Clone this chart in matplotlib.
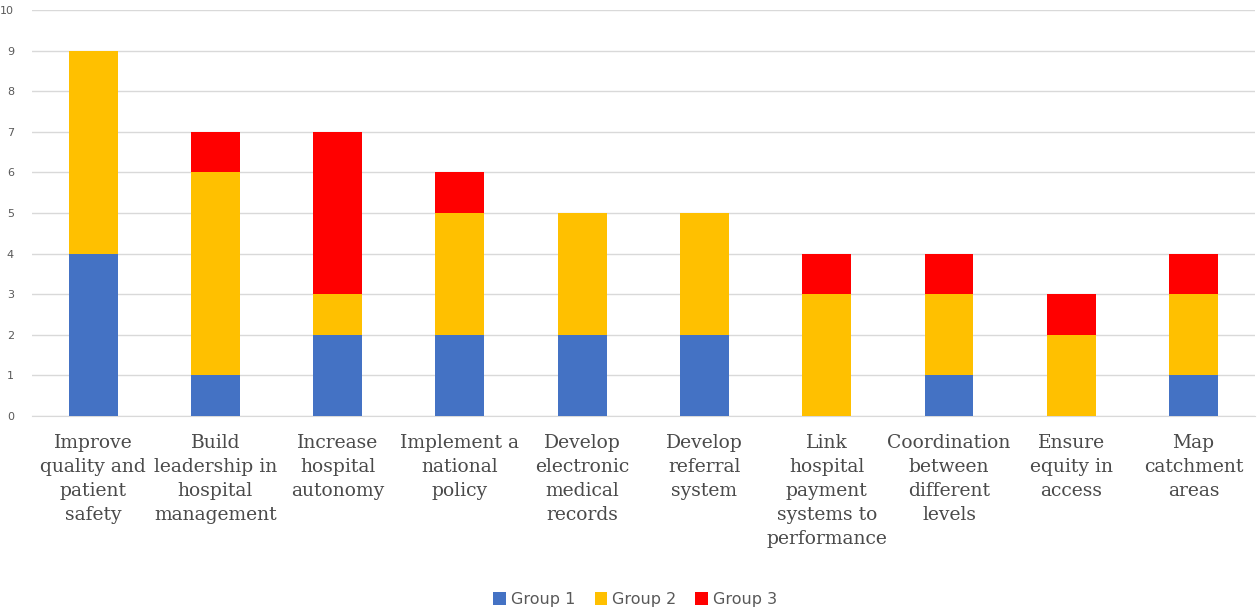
import numpy as np
import matplotlib.pyplot as plt
from matplotlib.patches import Patch

categories = [
    "Improve\nquality and\npatient\nsafety",
    "Build\nleadership in\nhospital\nmanagement",
    "Increase\nhospital\nautonomy",
    "Implement a\nnational\npolicy",
    "Develop\nelectronic\nmedical\nrecords",
    "Develop\nreferral\nsystem",
    "Link\nhospital\npayment\nsystems to\nperformance",
    "Coordination\nbetween\ndifferent\nlevels",
    "Ensure\nequity in\naccess",
    "Map\ncatchment\nareas",
]
group1 = [4, 1, 2, 2, 2, 2, 0, 1, 0, 1]
group2 = [5, 5, 1, 3, 3, 3, 3, 2, 2, 2]
group3 = [0, 1, 4, 1, 0, 0, 1, 1, 1, 1]
series_names = ["Group 1", "Group 2", "Group 3"]
colors = ["#4472C4", "#FFC000", "#FF0000"]

fig = plt.figure(figsize=(12.58, 6.13), dpi=100)
ax = fig.add_axes([0.0254, 0.3214, 0.972, 0.6623])

x = np.arange(len(categories))
bottom = np.zeros(len(categories))
for vals, col in zip([group1, group2, group3], colors):
    ax.bar(x, vals, bottom=bottom, width=0.4, color=col, zorder=3)
    bottom += np.array(vals)

ax.set_xlim(-0.5, len(categories) - 0.5)
ax.set_ylim(0, 10)
ax.set_yticks(range(0, 11))
ax.yaxis.grid(True, color="#D9D9D9", linewidth=1, zorder=0)
ax.tick_params(axis="y", length=0, labelsize=8, labelcolor="#595959", pad=13)
ax.tick_params(axis="x", length=0, pad=13)
ax.set_xticks(x)
ax.set_xticklabels(categories, fontsize=13.5, family="DejaVu Serif",
                   color="#4a4a4a", linespacing=1.43, va="top")
for s in ["top", "right", "left"]:
    ax.spines[s].set_visible(False)
ax.spines["bottom"].set_color("#D9D9D9")

handles = [Patch(facecolor=c, label=n) for c, n in zip(colors, series_names)]
fig.legend(handles=handles, loc="center", bbox_to_anchor=(0.505, 0.022), ncol=3,
           frameon=False, fontsize=11.5, labelcolor="#595959",
           handlelength=0.8, handleheight=0.8, handletextpad=0.3, columnspacing=1.2)

plt.savefig("out.png", dpi=100)
